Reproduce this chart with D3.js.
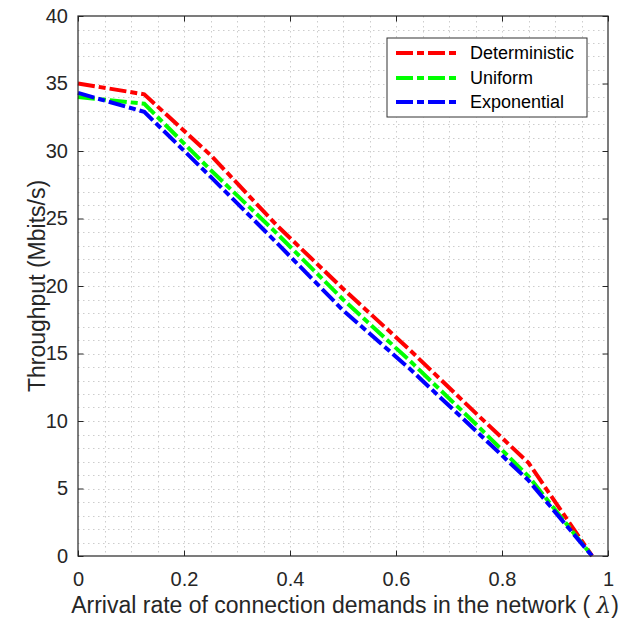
<!DOCTYPE html>
<html><head><meta charset="utf-8">
<script src="https://cdn.jsdelivr.net/npm/d3@7"></script>
<style>body{margin:0;background:#fff;} svg{display:block;font-family:"Liberation Sans",Arial,sans-serif;}</style>
</head><body>
<script>
const xValues = [0, 0.125, 0.25, 0.375, 0.5, 0.625, 0.75, 0.85, 0.97];
const deterministic = [35.0, 34.2, 29.7, 24.5, 19.8, 15.3, 10.6, 6.9, 0];
const uniform = [34.0, 33.5, 28.6, 23.9, 19.0, 14.5, 9.8, 5.9, 0];
const exponential = [34.3, 32.9, 28.1, 23.2, 18.2, 13.9, 9.3, 5.6, 0];
const seriesNames = ["Deterministic", "Uniform", "Exponential"];
const seriesColors = ["#ff0000", "#00ff00", "#0000ff"];
const xTicks = [0, 0.2, 0.4, 0.6, 0.8, 1];
const yTicks = [0, 5, 10, 15, 20, 25, 30, 35, 40];
const xLabelMain = "Arrival rate of connection demands in the network ( ";
const xLabelSym = "λ";
const xLabelEnd = ")";
const yLabel = "Throughput (Mbits/s)";

const W = 622, H = 622;
const L = 78, R = 608, T = 16, B = 556;
const svg = d3.select("body").append("svg").attr("width", W).attr("height", H);
const x = d3.scaleLinear().domain([0, 1]).range([L, R]);
const y = d3.scaleLinear().domain([0, 40]).range([B, T]);
const axisColor = "#262626";

// grid
const g = svg.append("g");
const xGrid = d3.range(1, 20).map(i => i * 0.05);
const yGrid = d3.range(1, 40);
g.selectAll(".vg").data(xGrid).join("line")
  .attr("x1", d => Math.round(x(d)) + 0.5).attr("x2", d => Math.round(x(d)) + 0.5)
  .attr("y1", T).attr("y2", B)
  .attr("stroke", "#cdcdcd").attr("stroke-width", 1).attr("stroke-dasharray", "1.5,3.5");
g.selectAll(".hg").data(yGrid).join("line")
  .attr("y1", d => Math.round(y(d)) + 0.5).attr("y2", d => Math.round(y(d)) + 0.5)
  .attr("x1", L).attr("x2", R)
  .attr("stroke", "#cdcdcd").attr("stroke-width", 1).attr("stroke-dasharray", "1.5,3.5");

// axes
const tl = 5.5;
const fmtX = d => d === 0 ? "0" : d === 1 ? "1" : d3.format(".1f")(d);
const xAxisB = svg.append("g").attr("transform", `translate(0,${B})`)
  .call(d3.axisBottom(x).tickValues(xTicks).tickSize(-tl).tickPadding(16).tickFormat(fmtX));
const xAxisT = svg.append("g").attr("transform", `translate(0,${T})`)
  .call(d3.axisTop(x).tickValues(xTicks).tickSize(-tl).tickFormat(""));
const yAxisL = svg.append("g").attr("transform", `translate(${L},0)`)
  .call(d3.axisLeft(y).tickValues(yTicks).tickSize(-tl).tickPadding(10));
const yAxisR = svg.append("g").attr("transform", `translate(${R},0)`)
  .call(d3.axisRight(y).tickValues(yTicks).tickSize(-tl).tickFormat(""));
[xAxisB, xAxisT, yAxisL, yAxisR].forEach(a => {
  a.select(".domain").remove();
  a.selectAll(".tick line").attr("stroke", axisColor).attr("stroke-width", 1);
  a.selectAll("text").attr("fill", axisColor).style("font-size", "20px")
    .style("font-family", '"Liberation Sans",Arial,sans-serif');
});
xAxisB.selectAll("text").attr("dy", "0.71em");

// lines
const lineGen = d3.line().x(d => x(d[0])).y(d => y(d[1]));
const allSeries = [deterministic, uniform, exponential];
const dash = "17,4,7,4";
allSeries.forEach((vals, i) => {
  svg.append("path")
    .datum(xValues.map((xv, j) => [xv, vals[j]]))
    .attr("d", lineGen)
    .attr("fill", "none")
    .attr("stroke", seriesColors[i])
    .attr("stroke-width", 4)
    .attr("stroke-dasharray", dash);
});

// frame
svg.append("rect").attr("x", L).attr("y", T).attr("width", R - L).attr("height", B - T)
  .attr("fill", "none").attr("stroke", axisColor).attr("stroke-width", 1.2);

// labels
const xl = svg.append("text").attr("x", (L + R) / 2 + 2).attr("y", 613).attr("text-anchor", "middle")
  .attr("fill", axisColor).style("font-size", "23px");
xl.append("tspan").text(xLabelMain);
xl.append("tspan").style("font-family", '"DejaVu Serif",serif').style("font-style", "italic").text(xLabelSym);
xl.append("tspan").text(xLabelEnd);
svg.append("text").attr("transform", `translate(45,${(T + B) / 2}) rotate(-90)`)
  .attr("text-anchor", "middle").attr("fill", axisColor).style("font-size", "23px").text(yLabel);

// legend
const lg = svg.append("g");
lg.append("rect").attr("x", 387).attr("y", 38).attr("width", 200).attr("height", 79)
  .attr("fill", "#fff").attr("stroke", "#333").attr("stroke-width", 1);
const rowY = [53, 78, 102];
seriesNames.forEach((name, i) => {
  lg.append("line").attr("x1", 396).attr("x2", 457).attr("y1", rowY[i]).attr("y2", rowY[i])
    .attr("stroke", seriesColors[i]).attr("stroke-width", 4).attr("stroke-dasharray", dash);
  lg.append("text").attr("x", 470).attr("y", rowY[i]).attr("dy", "0.35em")
    .attr("fill", "#000").style("font-size", "18px").text(name);
});
</script>
</body></html>
